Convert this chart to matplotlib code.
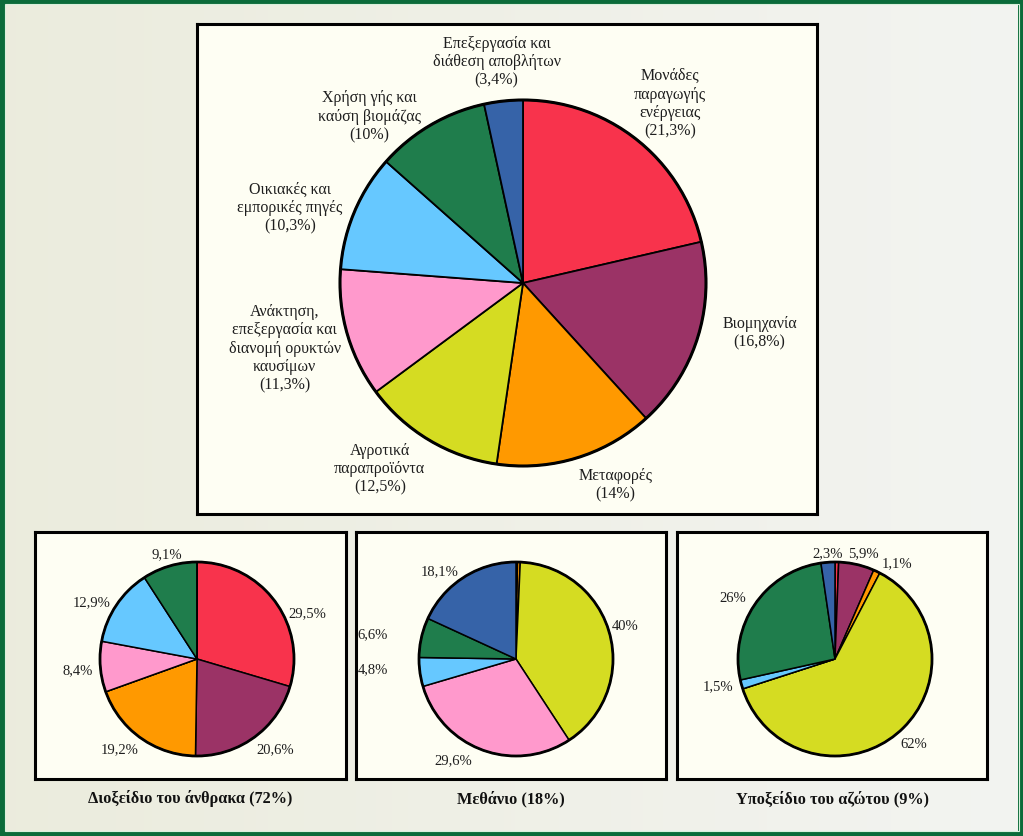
import numpy as np
import matplotlib
matplotlib.use("Agg")
import matplotlib.pyplot as plt
from matplotlib.patches import Rectangle, Circle

plt.rcParams['font.family'] = ['Liberation Serif', 'DejaVu Serif']

# ---------------- data ----------------
sources = ["Μονάδες\nπαραγωγής\nενέργειας", "Βιομηχανία", "Μεταφορές",
           "Αγροτικά\nπαραπροϊόντα",
           "Ανάκτηση,\nεπεξεργασία και\nδιανομή ορυκτών\nκαυσίμων",
           "Οικιακές και\nεμπορικές πηγές", "Χρήση γής και\nκαύση βιομάζας",
           "Επεξεργασία και\nδιάθεση αποβλήτων"]
total_share = [21.3, 16.8, 14.0, 12.5, 11.3, 10.3, 10.0, 3.4]
total_pct_text = ["21,3%", "16,8%", "14%", "12,5%", "11,3%", "10,3%", "10%", "3,4%"]

co2_values = [29.5, 20.6, 19.2, 0.0, 8.4, 12.9, 9.1, 0.0]
co2_text = ["29,5%", "20,6%", "19,2%", None, "8,4%", "12,9%", "9,1%", None]

ch4_values = [0.1, 0.15, 0.45, 40.0, 29.6, 4.8, 6.6, 18.1]
ch4_text = [None, None, None, "40%", "29,6%", "4,8%", "6,6%", "18,1%"]

n2o_values = [0.6, 5.9, 1.1, 62.0, 0.0, 1.5, 26.0, 2.3]
n2o_text = [None, "5,9%", "1,1%", "62%", None, "1,5%", "26%", "2,3%"]

gas_titles = ["Διοξείδιο του άνθρακα (72%)", "Μεθάνιο (18%)", "Υποξείδιο του αζώτου (9%)"]

colors = ["#f8334c", "#9b3366", "#ff9900", "#d5dc22", "#ff99cc", "#66c8ff", "#1f7d4c", "#3663a8"]

# ---------------- label layout (angle in deg, distance in radii) ----------------
main_lab_ang = [50.8, -11.7, -65.4, -127.7, -164.8, 161.9, 132.5, 96.8]
main_lab_dist = [1.27, 1.32, 1.21, 1.28, 1.35, 1.34, 1.24, 1.22]
co2_lab = [(23, 1.23), (-49, 1.23), (-131, 1.22), None, (185, 1.23), (151.5, 1.23), (106, 1.13), None]
ch4_lab = [None, None, None, (17, 1.18), (-122, 1.22), (184, 1.48), (170, 1.5), (131, 1.2)]
n2o_lab = [None, (75, 1.13), (57, 1.18), (-47, 1.19), None, (193, 1.24), (149, 1.23), (94, 1.1)]

W, H = 1023, 837
fig = plt.figure(figsize=(W / 100, H / 100), dpi=100)

# background gradient
bg = fig.add_axes([0, 0, 1, 1])
grad = np.linspace(0, 1, 256)[None, :]
c0 = np.array([0.922, 0.925, 0.867])
c1 = np.array([0.953, 0.957, 0.945])
img = c0[None, None, :] * (1 - grad[..., None]) + c1[None, None, :] * grad[..., None]
bg.imshow(img, aspect='auto', extent=[0, 1, 0, 1])
bg.set_xlim(0, 1); bg.set_ylim(0, 1)
bg.axis('off')
# green frame
bg.add_patch(Rectangle((0.0015, 0.0025), 0.997, 0.9955, fill=False,
                       edgecolor="#0b6b3a", linewidth=5, transform=bg.transAxes))
bg.add_patch(Rectangle((0.0045, 0.0065), 0.9915, 0.9875, fill=False,
                       edgecolor="#d9f0dc", linewidth=0.8, transform=bg.transAxes))


def box_axes(x0, y0, x1, y1, cx, cy, r):
    ax = fig.add_axes([x0 / W, 1 - y1 / H, (x1 - x0) / W, (y1 - y0) / H])
    return ax, ((x0 - cx) / r, (x1 - cx) / r), ((cy - y1) / r, (cy - y0) / r)


def finish(ax, xl, yl):
    ax.set_frame_on(True)
    ax.set_facecolor("#fefef3")
    ax.patch.set_visible(True)
    ax.set_xlim(*xl); ax.set_ylim(*yl)
    ax.set_aspect('auto')
    ax.set_xticks([]); ax.set_yticks([])
    for s in ax.spines.values():
        s.set_visible(True)
        s.set_linewidth(2.2)
        s.set_color('black')


wedge_kw = dict(edgecolor='black', linewidth=1.3)

# ---------------- main pie ----------------
ax, xl, yl = box_axes(197, 25, 817, 515, 523, 284, 183)
ax.pie(total_share, colors=colors, startangle=90, counterclock=False,
       wedgeprops=wedge_kw, radius=1.0)
ax.add_patch(Circle((0, 0), 1.0, fill=False, edgecolor='black', linewidth=2.2))
for name, pct, a, d in zip(sources, total_pct_text, main_lab_ang, main_lab_dist):
    t = np.deg2rad(a)
    ax.text(d * np.cos(t), d * np.sin(t), f"{name}\n({pct})", ha='center', va='center',
            fontsize=11.5, linespacing=1.2, color='#1e1e1e')
finish(ax, xl, yl)

# ---------------- small pies ----------------
boxes = [(35, 533, 346, 780, 197), (356, 533, 666, 780, 516), (677, 533, 987, 780, 835)]
gas_vals = [co2_values, ch4_values, n2o_values]
gas_txt = [co2_text, ch4_text, n2o_text]
gas_lab = [co2_lab, ch4_lab, n2o_lab]
for (x0, y0, x1, y1, cx), vals, txts, labs, title in zip(boxes, gas_vals, gas_txt, gas_lab, gas_titles):
    ax, xl, yl = box_axes(x0, y0, x1, y1, cx, 660, 97)
    ax.pie(vals, colors=colors, startangle=90, counterclock=False,
           wedgeprops=dict(edgecolor='black', linewidth=1.1), radius=1.0)
    ax.add_patch(Circle((0, 0), 1.0, fill=False, edgecolor='black', linewidth=2.0))
    for txt, lab in zip(txts, labs):
        if txt is None or lab is None:
            continue
        a, d = lab
        t = np.deg2rad(a)
        ax.text(d * np.cos(t), d * np.sin(t), txt, ha='center', va='center',
                fontsize=10.5, color='#1e1e1e')
    finish(ax, xl, yl)
    fig.text(((x0 + x1) / 2) / W, 1 - 799 / H, title, ha='center', va='center',
             fontsize=11.7, fontweight='bold', color='#111111')

fig.savefig("out.png", dpi=100)
